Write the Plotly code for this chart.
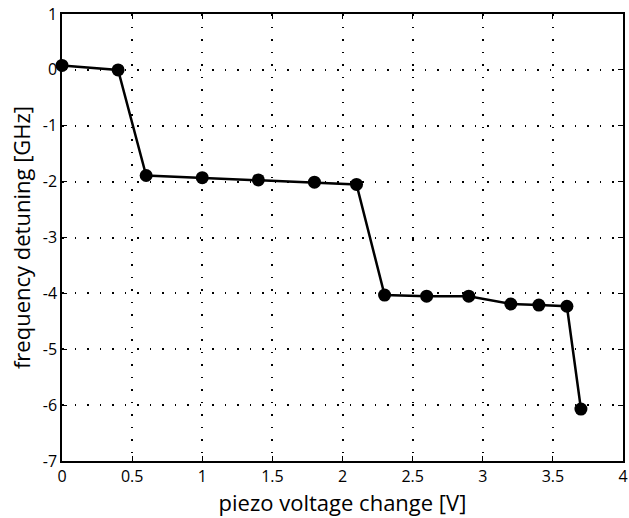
import plotly.graph_objects as go

voltage = [0.0, 0.4, 0.6, 1.0, 1.4, 1.8, 2.1, 2.3, 2.6, 2.9, 3.2, 3.4, 3.6, 3.7]
detuning = [0.08, 0.0, -1.89, -1.93, -1.97, -2.01, -2.05, -4.03, -4.05, -4.05, -4.19, -4.21, -4.23, -6.07]

x_ticks = [0, 0.5, 1, 1.5, 2, 2.5, 3, 3.5, 4]
x_labels = ["0", "0.5", "1", "1.5", "2", "2.5", "3", "3.5", "4"]
y_ticks = [1, 0, -1, -2, -3, -4, -5, -6, -7]
y_labels = ["1", "0", "-1", "-2", "-3", "-4", "-5", "-6", "-7"]

font_family = "Open Sans, Liberation Sans, sans-serif"

fig = go.Figure()
fig.add_trace(go.Scatter(
    x=voltage, y=detuning, mode="lines+markers",
    line=dict(color="black", width=2.5),
    marker=dict(color="black", size=13),
    showlegend=False, cliponaxis=False,
))

axis_common = dict(
    showline=True, linecolor="black", linewidth=1.5, mirror="ticks",
    ticks="inside", ticklen=5, tickwidth=1, tickcolor="black",
    showgrid=True, gridcolor="black", gridwidth=1.5, griddash="1.5px,11px",
    zeroline=False, ticklabeloverflow="allow", automargin=False,
    tickfont=dict(family=font_family, size=16, color="black"),
)

fig.update_xaxes(range=[0, 4], tickvals=x_ticks, ticktext=x_labels,
                 title=dict(text="piezo voltage change [V]",
                            font=dict(family=font_family, size=22, color="black"),
                            standoff=5),
                 **axis_common)
fig.update_yaxes(range=[-7, 1], tickvals=y_ticks, ticktext=y_labels,
                 title=dict(text="frequency detuning [GHz]",
                            font=dict(family=font_family, size=22, color="black"),
                            standoff=6),
                 **axis_common)

fig.update_layout(
    width=629, height=518,
    margin=dict(l=62, r=6, t=14, b=57),
    plot_bgcolor="white", paper_bgcolor="white",
)

fig.write_html("out.html")
